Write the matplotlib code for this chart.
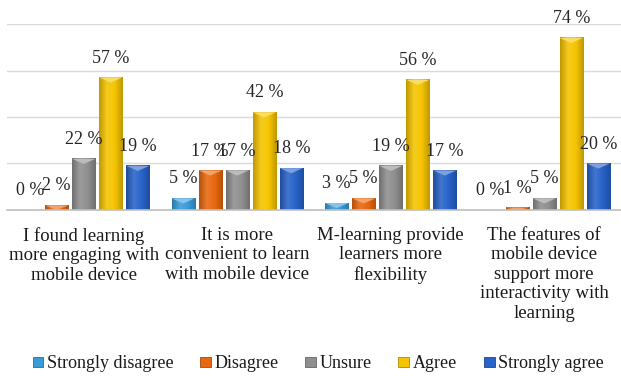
import matplotlib
matplotlib.use("Agg")
import matplotlib.pyplot as plt
from matplotlib.patches import Polygon
from matplotlib.colors import to_rgb, LinearSegmentedColormap
import numpy as np

plt.rcParams['font.family'] = ['Liberation Serif', 'DejaVu Serif']

categories = [
    "I found learning\nmore engaging with\nmobile device",
    "It is more\nconvenient to learn\nwith mobile device",
    "M-learning provide\nlearners more\nflexibility",
    "The features of\nmobile device\nsupport more\ninteractivity with\nlearning",
]
series_names = ["Strongly disagree", "Disagree", "Unsure", "Agree", "Strongly agree"]
strongly_disagree = [0, 5, 3, 0]
disagree = [2, 17, 5, 1]
unsure = [22, 17, 19, 5]
agree = [57, 42, 56, 74]
strongly_agree = [19, 18, 17, 20]
series_values = [strongly_disagree, disagree, unsure, agree, strongly_agree]
colors = ["#3A9BD9", "#E8680E", "#8F8F8F", "#F5C400", "#2863C8"]

fig = plt.figure(figsize=(6.21, 3.76), dpi=100)
ax = fig.add_axes([7 / 621, 1 - 210 / 376, 614 / 621, 186 / 376])

x = np.arange(len(categories))
step = 0.176
width = 0.15


def shade(c, f):
    r, g, b = to_rgb(c)
    if f > 0:
        return (r + (1 - r) * f, g + (1 - g) * f, b + (1 - b) * f)
    return (r * (1 + f), g * (1 + f), b * (1 + f))


ramp = np.linspace(0, 1, 64)[None, :]

for i, (name, vals, col) in enumerate(zip(series_names, series_values, colors)):
    pos = x + (i - 2) * step
    bars = ax.bar(pos, vals, width, color=col, edgecolor=shade(col, -0.3),
                  linewidth=0.6, label=name, zorder=3)
    cmap = LinearSegmentedColormap.from_list(
        name, [shade(col, -0.22), shade(col, 0.12), col, shade(col, -0.22)])
    for b, v in zip(bars, vals):
        bx, bw, h = b.get_x(), b.get_width(), b.get_height()
        if v > 0:
            # horizontal shading across the bar face
            ax.imshow(ramp, extent=[bx, bx + bw, 0, h], cmap=cmap,
                      aspect='auto', zorder=3.5, interpolation='bilinear')
            d = min(2.2, h)
            tri = Polygon([(bx, h), (bx + bw, h), (bx + bw / 2, h - d)],
                          closed=True, facecolor=shade(col, 0.4),
                          edgecolor='none', zorder=4)
            ax.add_patch(tri)
        ax.annotate(f"{v} %", (bx + bw / 2, v),
                    xytext=(0, 14), textcoords='offset points',
                    ha='center', va='center', fontsize=13, color='#262626',
                    zorder=5, annotation_clip=False)

ax.set_xlim(-0.5, len(categories) - 0.5)
ax.set_ylim(0, 80)
ax.set_aspect('auto')
ax.set_yticks([0, 20, 40, 60, 80])
ax.yaxis.grid(True, color='#D9D9D9', linewidth=1)
ax.set_axisbelow(True)
ax.tick_params(axis='y', left=False, labelleft=False)
ax.tick_params(axis='x', length=0, pad=12)
ax.set_xticks(x)
ax.set_xticklabels(categories, fontsize=13.5, color='#1a1a1a', linespacing=1.2)
for s in ['top', 'right', 'left']:
    ax.spines[s].set_visible(False)
ax.spines['bottom'].set_color('#BFBFBF')
ax.spines['bottom'].set_linewidth(1.2)
ax.spines['bottom'].set_zorder(6)

leg = fig.legend(loc='center', bbox_to_anchor=(318 / 621, 1 - 364 / 376), ncol=5,
                 frameon=False, fontsize=13, handlelength=0.6,
                 handleheight=0.5, handletextpad=0.17, columnspacing=1.5,
                 borderpad=0)
for t in leg.get_texts():
    t.set_color('#1a1a1a')

fig.savefig("out.png", dpi=100)
